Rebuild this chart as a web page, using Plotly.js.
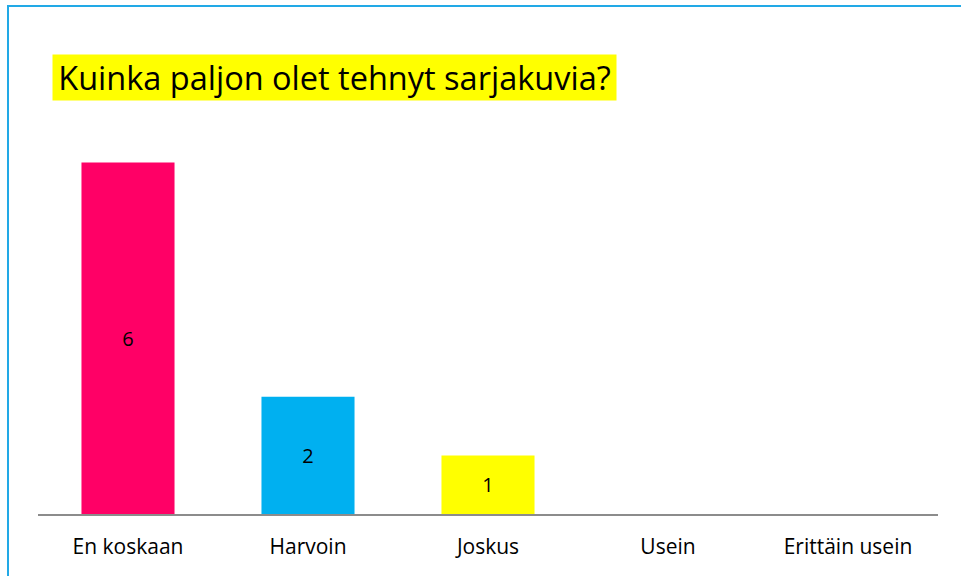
<!DOCTYPE html>
<html>
<head>
<meta charset="utf-8">
<script src="https://cdn.plot.ly/plotly-3.0.1.min.js"></script>
<style>
  html, body { margin: 0; padding: 0; background: #fff; overflow: hidden; }
  #chart { width: 961px; height: 576px; position: absolute; left: 0; top: 0; }
  #frame { position: absolute; left: 7px; top: 5px; width: 1000px; height: 1000px;
           border-left: 2px solid #22A9E6; border-top: 2px solid #22A9E6; pointer-events: none; }
</style>
</head>
<body>
<div id="chart"></div>
<div id="frame"></div>
<script>
const categories = ["En koskaan", "Harvoin", "Joskus", "Usein", "Erittäin usein"];
const values = [6, 2, 1, 0, 0];
const barColors = ["#FF0066", "#00B0F0", "#FFFF00", "#FFFFFF", "#FFFFFF"];
const barLabels = ["6", "2", "1", "", ""];
const chartTitle = "Kuinka paljon olet tehnyt sarjakuvia?";

const font = "Open Sans, Noto Sans, sans-serif";

Plotly.newPlot("chart", [{
  type: "bar",
  x: categories,
  y: values,
  marker: { color: barColors },
  text: barLabels,
  textposition: "inside",
  insidetextanchor: "middle",
  textfont: { family: font, size: 20, color: "#000" },
  hoverinfo: "none"
}], {
  width: 961, height: 576,
  margin: { l: 38, r: 23, t: 104, b: 62 },
  paper_bgcolor: "#fff", plot_bgcolor: "#fff",
  bargap: 0.483,
  showlegend: false,
  xaxis: {
    type: "category",
    showline: true, linecolor: "#8C8C8C", linewidth: 2,
    ticks: "", showgrid: false, zeroline: false,
    tickfont: { family: font, size: 21, color: "#000" },
    ticklabelstandoff: 13
  },
  yaxis: {
    range: [0, 7], visible: false, showgrid: false, zeroline: false
  },
  annotations: [{
    text: chartTitle,
    xref: "paper", yref: "paper",
    x: 0.02, y: 1.05, xanchor: "left", yanchor: "middle",
    showarrow: false,
    width: 563, height: 45, align: "center", valign: "middle",
    font: { family: font, size: 32.5, color: "#000" },
    bgcolor: "#FFFF00", borderpad: 0
  }]
}, { staticPlot: true }).then(gd => {
  const fl = gd._fullLayout;
  const px = (52 - fl.margin.l) / fl._size.w;
  const py = 1 + (fl.margin.t - 77.5) / fl._size.h;
  Plotly.relayout(gd, { "annotations[0].x": px, "annotations[0].y": py });
});
</script>
</body>
</html>
